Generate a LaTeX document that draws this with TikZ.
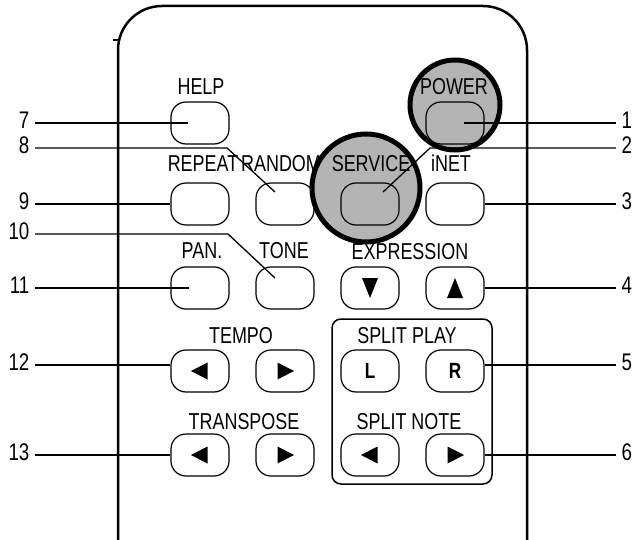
\documentclass[tikz,border=0pt]{standalone}
\usepackage{fontspec}
\setmainfont{Liberation Sans}[FakeStretch=0.78]
\usetikzlibrary{calc}
\definecolor{ringgrey}{HTML}{B4B4B4}
\tikzset{
  every picture/.style={line width=1.2pt},
  shell/.style={line width=2.5pt, rounded corners=44pt},
  btn/.style={draw, rounded corners=15pt, minimum width=58pt, minimum height=42pt, inner sep=0pt, line width=1.2pt},
  lbl/.style={font=\fontsize{23}{25}\selectfont, inner sep=0pt, text height=16.4pt, text depth=0pt},
  key/.style={btn, font=\bfseries\fontsize{22}{24}\selectfont},
  num/.style={font=\fontsize{24}{26}\selectfont, inner xsep=5pt, inner ysep=0pt, text height=17.2pt, text depth=6pt},
  ring/.style={circle, draw, line width=5pt, fill=ringgrey, inner sep=0pt},
  lead/.style={line width=1.3pt},
  tri/.pic={\fill (-7.5,-8.5) -- (9,0) -- (-7.5,8.5) -- cycle;},
  vtri/.pic={\fill (-8,-10) -- (8,-10) -- (0,10) -- cycle;},
}

\begin{document}
\begin{tikzpicture}[x=1pt, y=-1pt]
  \useasboundingbox (0,0) rectangle (637,540);
  % remote body
  \draw[shell] (118,540) -- (118,6) -- (527,6) -- (527,540);
  \draw (113,40) -- (118,40);
  \draw[line width=1.5pt, rounded corners=9pt] (332,319) rectangle (492,484);
  % labels
  \node[lbl] (lhelp) at (201,86) {HELP};
  \node[lbl] (lrepeat) at (203,163) {REPEAT};
  \node[lbl] (lrandom) at (281,163) {RANDOM};
  \node[lbl] (linet) at (451,163) {iNET};
  \node[lbl] (lpan) at (202,250) {PAN.};
  \node[lbl] (ltone) at (284,250) {TONE};
  \node[lbl] (lexpr) at (410,251) {EXPRESSION};
  \node[lbl] (ltempo) at (241,335) {TEMPO};
  \node[lbl] (lsplay) at (407,335) {SPLIT PLAY};
  \node[lbl] (ltrans) at (244,421) {TRANSPOSE};
  \node[lbl] (lsnote) at (409,421) {SPLIT NOTE};
  % highlighted keys
  \node[ring, minimum size=90pt] (rpower) at (455,105) {};
  \node[ring, minimum size=108pt] (rservice) at (366,188) {};
  \node[lbl] (lpower) at (454,86) {POWER};
  \node[lbl] (lservice) at (371,163) {SERVICE};
  % buttons
  \node[btn] (help) at (200,123) {};
  \node[btn] (power) at (455,123) {};
  \node[btn] (repeat) at (200,204) {};
  \node[btn] (random) at (285,204) {};
  \node[btn] (service) at (370,204) {};
  \node[btn] (inet) at (455,204) {};
  \node[btn] (pan) at (200,288) {};
  \node[btn] (tone) at (285,288) {};
  \node[btn] (exdown) at (370,288) {};
  \node[btn] (exup) at (455,288) {};
  \node[btn] (tempol) at (200,371) {};
  \node[btn] (tempor) at (285,371) {};
  \node[key] (playl) at (370,371) {L};
  \node[key] (playr) at (455,371) {R};
  \node[btn] (transl) at (200,455) {};
  \node[btn] (transr) at (285,455) {};
  \node[btn] (notel) at (370,455) {};
  \node[btn] (noter) at (455,455) {};
  \pic at (exdown) {vtri};
  \pic[rotate=180] at (exup) {vtri};
  \pic[xscale=-1] at (tempol) {tri};
  \pic at (tempor) {tri};
  \pic[xscale=-1] at (transl) {tri};
  \pic at (transr) {tri};
  \pic[xscale=-1] at (notel) {tri};
  \pic at (noter) {tri};
  % callouts
  \node[num, anchor=east] (n7) at (35,123) {7};
  \node[num, anchor=east] (n8) at (35,148) {8};
  \node[num, anchor=east] (n9) at (35,204) {9};
  \node[num, anchor=east] (n10) at (35,234) {10};
  \node[num, anchor=east] (n11) at (35,288) {11};
  \node[num, anchor=east] (n12) at (35,365) {12};
  \node[num, anchor=east] (n13) at (35,455) {13};
  \node[num, anchor=west] (n1) at (616,123) {1};
  \node[num, anchor=west] (n2) at (616,148) {2};
  \node[num, anchor=west] (n3) at (616,204) {3};
  \node[num, anchor=west] (n4) at (616,288) {4};
  \node[num, anchor=west] (n5) at (616,365) {5};
  \node[num, anchor=west] (n6) at (616,455) {6};
  \coordinate (k8) at (227,148);
  \coordinate (k10) at (228,234);
  \coordinate (k2) at (430,148);
  \draw[lead] (n7.east) -- ([xshift=-12pt]help.center);
  \draw[lead] (n8.east) -- (k8) -- ([shift={(-10,-12)}]random.center);
  \draw[lead] (n9.east) -- (n9.east -| repeat.west);
  \draw[lead] (n10.east) -- (k10) -- ([shift={(-10,-10)}]tone.center);
  \draw[lead] (n11.east) -- ([xshift=-11pt]pan.center);
  \draw[lead] (n12.east) -- (n12.east -| tempol.west);
  \draw[lead] (n13.east) -- (n13.east -| transl.west);
  \draw[lead] (n1.west) -- ([xshift=9pt]power.center);
  \draw[lead] (n2.west) -- (k2) -- ([shift={(13,-12)}]service.center);
  \draw[lead] (n3.west) -- (n3.west -| inet.east);
  \draw[lead] (n4.west) -- (n4.west -| exup.east);
  \draw[lead] (n5.west) -- (n5.west -| playr.east);
  \draw[lead] (n6.west) -- (n6.west -| noter.east);
\end{tikzpicture}
\end{document}
